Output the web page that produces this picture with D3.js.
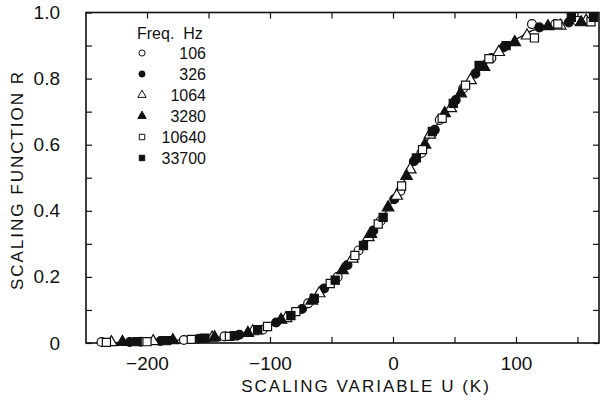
<!DOCTYPE html>
<html>
<head>
<meta charset="utf-8">
<script src="https://cdn.jsdelivr.net/npm/d3@7"></script>
<style>
body { margin: 0; background: #fff; }
text { font-family: "Liberation Sans", Arial, sans-serif; fill: #111; }
</style>
</head>
<body>
<div id="chart"></div>
<script>
// legend labels (frequency, Hz)
const freqs = ["106", "326", "1064", "3280", "10640", "33700"];

// scaling variable U (K) and scaling function R for each frequency
const u106 = [-237, -205, -170, -137, -106, -69, -45, -28, -10, 6, 23, 38, 57, 80, 113, 132, 150];
const r106 = [0.003, 0.004, 0.009, 0.02, 0.04, 0.12, 0.2, 0.28, 0.37, 0.46, 0.575, 0.675, 0.77, 0.862, 0.965, 0.965, 0.975];
const u326 = [-214, -189, -158, -125, -95, -74, -56, -37, -16, 1, 17, 34, 51, 67, 90, 119, 143];
const r326 = [0.003, 0.006, 0.013, 0.025, 0.062, 0.103, 0.165, 0.236, 0.34, 0.435, 0.55, 0.645, 0.735, 0.815, 0.895, 0.955, 0.97];
const u1064 = [-229, -195, -147, -114, -87, -60, -33, -20, 3, 14, 30, 47, 63, 86, 109, 136, 157];
const r1064 = [0.002, 0.005, 0.016, 0.035, 0.075, 0.15, 0.255, 0.32, 0.445, 0.525, 0.63, 0.71, 0.795, 0.88, 0.93, 0.96, 0.975];
const u3280 = [-220, -179, -145, -118, -91, -66, -41, -18, -4, 11, 26, 42, 55, 74, 99, 126, 153];
const r3280 = [0.003, 0.008, 0.017, 0.03, 0.07, 0.128, 0.22, 0.33, 0.41, 0.505, 0.6, 0.695, 0.755, 0.835, 0.91, 0.958, 0.97];
const u10640 = [-233, -200, -164, -133, -102, -79, -51, -31, -12, 7, 24, 40, 59, 78, 115, 134, 161];
const r10640 = [0.002, 0.004, 0.011, 0.02, 0.05, 0.095, 0.18, 0.265, 0.36, 0.475, 0.585, 0.68, 0.78, 0.86, 0.923, 0.965, 0.972];
const u33700 = [-208, -184, -153, -129, -110, -83, -64, -47, -24, -8, 19, 32, 49, 70, 92, 145, 163];
const r33700 = [0.004, 0.007, 0.015, 0.022, 0.04, 0.083, 0.135, 0.19, 0.295, 0.38, 0.56, 0.64, 0.725, 0.84, 0.9, 0.985, 0.985];

// the solid scaling curve
const curveU = [-241, -220, -200, -179, -158, -137, -116, -95, -85, -74, -64, -54, -43, -33, -22, -12, -1, 9, 19, 30, 40, 51, 61, 72, 82, 92, 103, 113, 124, 134, 145, 155, 165];
const curveR = [0.0, 0.002, 0.004, 0.007, 0.013, 0.019, 0.033, 0.06, 0.08, 0.103, 0.135, 0.17, 0.21, 0.255, 0.305, 0.36, 0.425, 0.49, 0.56, 0.625, 0.685, 0.735, 0.785, 0.83, 0.868, 0.9, 0.925, 0.945, 0.958, 0.966, 0.971, 0.974, 0.976];

// tick labels
const xTickVals = [-200, -150, -100, -50, 0, 50, 100, 150];
const yTickVals = [0, 0.1, 0.2, 0.3, 0.4, 0.5, 0.6, 0.7, 0.8, 0.9, 1.0];

const width = 605;
const height = 404;
const margin = { top: 12.5, right: 6, bottom: 61, left: 86 };

const svg = d3.select("#chart")
  .append("svg")
  .attr("width", width)
  .attr("height", height);

const x = d3.scaleLinear()
  .domain([-249.6, 167.5])
  .range([margin.left, width - margin.right]);

const y = d3.scaleLinear()
  .domain([0, 1])
  .range([height - margin.bottom, margin.top]);

// marker look per series: symbol type and filled or open
const markerTypes = [d3.symbolCircle, d3.symbolCircle, d3.symbolTriangle, d3.symbolTriangle, d3.symbolSquare, d3.symbolSquare];
const markerFilled = [false, true, false, true, false, true];
const markerSizes = [62, 62, 58, 58, 66, 66];

const series = [
  [u106, r106], [u326, r326], [u1064, r1064],
  [u3280, r3280], [u10640, r10640], [u33700, r33700]
].map(([us, rs], i) => ({
  i: i,
  points: us.map((u, k) => ({ u: u, r: rs[k] }))
}));

//Axes with inward ticks on all four sides.
const fmtX = d => (d % 100 === 0 ? (d < 0 ? "\u2212" + Math.abs(d) : d) : "");
const fmtY = d => {
  const k = Math.round(d * 10);
  if (k % 2 !== 0) return "";
  return k === 0 ? "0" : d.toFixed(1);
};

svg.append("g")
  .attr("transform", `translate(0,${height - margin.bottom})`)
  .call(d3.axisBottom(x).tickValues(xTickVals).tickSize(-6).tickPadding(14).tickFormat(fmtX));

svg.append("g")
  .attr("transform", `translate(0,${margin.top})`)
  .call(d3.axisTop(x).tickValues(xTickVals).tickSize(-6).tickFormat(""));

svg.append("g")
  .attr("transform", `translate(${margin.left},0)`)
  .call(d3.axisLeft(y).tickValues(yTickVals).tickSize(-6).tickPadding(26).tickFormat(fmtY));

svg.append("g")
  .attr("transform", `translate(${width - margin.right},0)`)
  .call(d3.axisRight(y).tickValues(yTickVals).tickSize(-6).tickFormat(""));

svg.selectAll(".domain").remove();
svg.selectAll(".tick line").attr("stroke", "#111").attr("stroke-width", 1.2);
svg.selectAll(".tick text").attr("font-size", 19).attr("fill", "#111");

//Frame
svg.append("rect")
  .attr("x", margin.left)
  .attr("y", margin.top)
  .attr("width", width - margin.left - margin.right)
  .attr("height", height - margin.top - margin.bottom)
  .attr("fill", "none")
  .attr("stroke", "#111")
  .attr("stroke-width", 1.6);

//Axis titles
svg.append("text")
  .attr("x", 366)
  .attr("y", 392)
  .attr("text-anchor", "middle")
  .attr("font-size", 17)
  .attr("letter-spacing", 2)
  .text("SCALING VARIABLE U (K)");

svg.append("text")
  .attr("transform", "rotate(-90)")
  .attr("x", -180)
  .attr("y", 23)
  .attr("text-anchor", "middle")
  .attr("font-size", 17)
  .attr("letter-spacing", 2)
  .text("SCALING FUNCTION R");

//Scaling curve
const line = d3.line()
  .x((d, k) => x(curveU[k]))
  .y(d => y(d))
  .curve(d3.curveMonotoneX);

svg.append("path")
  .datum(curveR)
  .attr("d", line)
  .attr("fill", "none")
  .attr("stroke", "#111")
  .attr("stroke-width", 1.3);

//Data points
const sym = d3.symbol();
series.forEach(s => {
  svg.append("g")
    .selectAll("path")
    .data(s.points)
    .enter()
    .append("path")
    .attr("transform", d => `translate(${x(d.u)},${y(d.r)})`)
    .attr("d", sym.type(markerTypes[s.i]).size(markerSizes[s.i])())
    .attr("fill", markerFilled[s.i] ? "#111" : "#fff")
    .attr("stroke", "#111")
    .attr("stroke-width", 1.2);
});

//Legend
const legend = svg.append("g");
legend.append("text")
  .attr("x", 137)
  .attr("y", 39)
  .attr("font-size", 16)
  .attr("xml:space", "preserve")
  .text("Freq.  Hz");

freqs.forEach((f, i) => {
  const cy = 53 + i * 21;
  legend.append("path")
    .attr("transform", `translate(142,${cy})`)
    .attr("d", d3.symbol().type(markerTypes[i]).size(30)())
    .attr("fill", markerFilled[i] ? "#111" : "#fff")
    .attr("stroke", "#111")
    .attr("stroke-width", 1);
  legend.append("text")
    .attr("x", 206)
    .attr("y", cy + 6)
    .attr("text-anchor", "end")
    .attr("font-size", 16)
    .text(f);
});
</script>
</body>
</html>
